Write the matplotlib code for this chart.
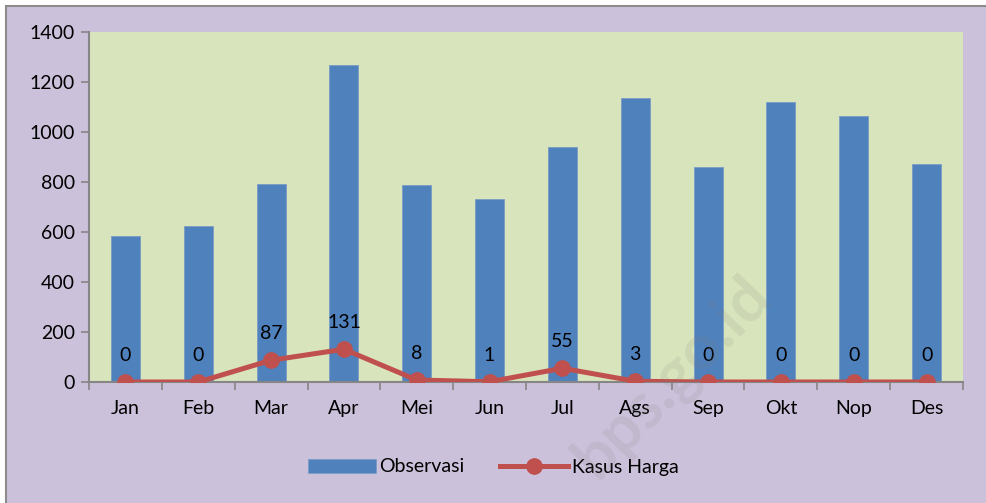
import matplotlib
matplotlib.use('Agg')

import numpy as np
import matplotlib.pyplot as plt
from matplotlib.patches import Rectangle

# Data
months = ['Jan', 'Feb', 'Mar', 'Apr', 'Mei', 'Jun', 'Jul', 'Ags', 'Sep', 'Okt', 'Nop', 'Des']
observasi = [584, 625, 791, 1269, 788, 732, 939, 1136, 859, 1120, 1063, 872]
kasus_harga = [0, 0, 87, 131, 8, 1, 55, 3, 0, 0, 0, 0]

plt.rcParams['font.family'] = ['Lato', 'DejaVu Sans']

fig = plt.figure(figsize=(9.86, 5.03), dpi=100)
fig.patch.set_facecolor('white')

# chart area background with gray border on top/left
bg = Rectangle((6 / 986, -0.01), 1.0, (503 - 6) / 503 + 0.01, transform=fig.transFigure,
               facecolor='#ccc1da', edgecolor='#8c8c8c', linewidth=1.5, zorder=-5)
fig.patches.append(bg)

ax = fig.add_axes([89 / 986, 1 - 382 / 503, (963 - 89) / 986, (382 - 32) / 503])
ax.set_zorder(1)
ax.set_facecolor('#d8e4bc')

x = np.arange(len(months))
bars = ax.bar(x, observasi, width=0.4, color='#4f81bd', edgecolor='#7a9cc6', linewidth=0.6,
              label='Observasi', zorder=2)
line, = ax.plot(x, kasus_harga, color='#c0504d', linewidth=3.6, marker='o', markersize=11,
                label='Kasus Harga', zorder=3)

for xi, v in zip(x, kasus_harga):
    ax.annotate(str(v), (xi, v), xytext=(0, 19), textcoords='offset points',
                ha='center', va='center', fontsize=14, color='black', zorder=4)

ax.set_xlim(-0.5, len(months) - 0.5)
ax.set_ylim(0, 1400)
ax.set_yticks(range(0, 1401, 200))
ax.set_xticks(x)
ax.set_xticklabels(months, fontsize=14)
ax.set_xticks(np.arange(-0.5, len(months), 1), minor=True)
ax.tick_params(axis='x', which='major', length=0, pad=13)
ax.tick_params(axis='x', which='minor', length=6, color='#868686', width=1.2, direction='out')
ax.tick_params(axis='y', length=6, color='#868686', width=1.2, labelsize=14, pad=4)

for side in ['top', 'right']:
    ax.spines[side].set_visible(False)
for side in ['left', 'bottom']:
    ax.spines[side].set_color('#868686')
    ax.spines[side].set_linewidth(1.5)

fig.legend([bars, line], ['Observasi', 'Kasus Harga'], loc='center',
           bbox_to_anchor=(0.5, 1 - 467 / 503), ncol=2, frameon=False,
           fontsize=14, handlelength=3.5, columnspacing=1.8, handletextpad=0.2)

# faint watermark
wm = fig.text(0.682, 0.25, 'bps.go.id', rotation=46, fontsize=46, fontweight='bold',
              color='#7a7a7a', alpha=0.13, ha='center', va='center')
wm.set_zorder(10)

plt.savefig('out.png', dpi=100, facecolor=fig.get_facecolor())
plt.close()
